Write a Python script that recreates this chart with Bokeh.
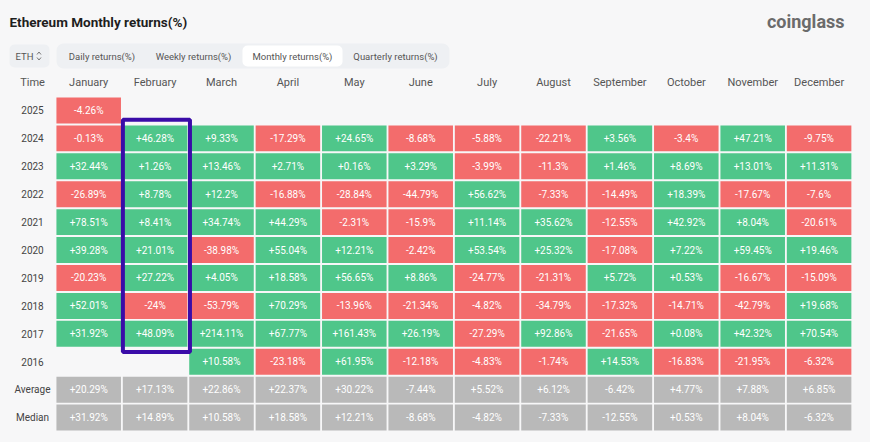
from bokeh.plotting import figure
from bokeh.models import Range1d, ColumnDataSource
from bokeh.core.properties import value
from bokeh.embed import file_html
from bokeh.resources import INLINE

# ---------------- data ----------------
months = ["January", "February", "March", "April", "May", "June", "July",
          "August", "September", "October", "November", "December"]
row_labels = ["2025", "2024", "2023", "2022", "2021", "2020", "2019", "2018",
              "2017", "2016", "Average", "Median"]
r2025 = [-4.26, None, None, None, None, None, None, None, None, None, None, None]
r2024 = [-0.13, 46.28, 9.33, -17.29, 24.65, -8.68, -5.88, -22.21, 3.56, -3.4, 47.21, -9.75]
r2023 = [32.44, 1.26, 13.46, 2.71, 0.16, 3.29, -3.99, -11.3, 1.46, 8.69, 13.01, 11.31]
r2022 = [-26.89, 8.78, 12.2, -16.88, -28.84, -44.79, 56.62, -7.33, -14.49, 18.39, -17.67, -7.6]
r2021 = [78.51, 8.41, 34.74, 44.29, -2.31, -15.9, 11.14, 35.62, -12.55, 42.92, 8.04, -20.61]
r2020 = [39.28, 21.01, -38.98, 55.04, 12.21, -2.42, 53.54, 25.32, -17.08, 7.22, 59.45, 19.46]
r2019 = [-20.23, 27.22, 4.05, 18.58, 56.65, 8.86, -24.77, -21.31, 5.72, 0.53, -16.67, -15.09]
r2018 = [52.01, -24, -53.79, 70.29, -13.96, -21.34, -4.82, -34.79, -17.32, -14.71, -42.79, 19.68]
r2017 = [31.92, 48.09, 214.11, 67.77, 161.43, 26.19, -27.29, 92.86, -21.65, 0.08, 42.32, 70.54]
r2016 = [None, None, 10.58, -23.18, 61.95, -12.18, -4.83, -1.74, 14.53, -16.83, -21.95, -6.32]
average = [20.29, 17.13, 22.86, 22.37, 30.22, -7.44, 5.52, 6.12, -6.42, 4.77, 7.88, 6.85]
median = [31.92, 14.89, 10.58, 18.58, 12.21, -8.68, -4.82, -7.33, -12.55, 0.53, 8.04, -6.32]
highlight_month = "February"
highlight_years = ["2024", "2017"]  # first and last row of the highlighted block

rows = [r2025, r2024, r2023, r2022, r2021, r2020, r2019, r2018, r2017, r2016, average, median]
summary_rows = {"Average", "Median"}

# ---------------- styling ----------------
W, H = 870, 442
COL_PX = 66.4
ROW_PX = 27.92
X0 = -55 / COL_PX
Y_TOP = -96 / ROW_PX
BG = "#f7f7f8"
GREEN = "#4fc68a"
RED = "#f36c6c"
GRAY = "#b9b9b9"
FONT = "Roboto"


def sx(px):
    """screen x -> data x (decorations only)"""
    return X0 + px / COL_PX


def sy(py):
    return Y_TOP + py / ROW_PX


p = figure(width=W, height=H, output_backend="svg", toolbar_location=None,
           x_range=Range1d(X0, X0 + W / COL_PX),
           y_range=Range1d(Y_TOP + H / ROW_PX, Y_TOP),
           min_border=0)
p.axis.visible = False
p.grid.visible = False
p.outline_line_color = None
p.background_fill_color = BG
p.border_fill_color = BG

# ---------------- cells ----------------
xs, ys, cols, texts = [], [], [], []
for i, (lab, vals) in enumerate(zip(row_labels, rows)):
    for j, v in enumerate(vals):
        if v is None:
            continue
        xs.append(j + 0.5)
        ys.append(i + 0.5)
        if lab in summary_rows:
            cols.append(GRAY)
        else:
            cols.append(GREEN if v >= 0 else RED)
        texts.append(("%+g" % v) + "%")
src = ColumnDataSource(dict(x=xs, y=ys, c=cols, t=texts))
p.rect(x="x", y="y", width=0.972, height=0.93, fill_color="c", line_color=None, source=src)
p.text(x="x", y="y", text="t", text_align="center", text_baseline="middle",
       text_font=value(FONT), text_font_size="10px", text_color="white", source=src)

# header row
p.text(x=[j + 0.5 for j in range(len(months))], y=[-0.5] * len(months), text=months,
       text_align="center", text_baseline="middle", text_font=value(FONT),
       text_font_size="11px", text_color="#555555")
p.text(x=[sx(32)], y=[-0.5], text=["Time"], text_align="center", text_baseline="middle",
       text_font=value(FONT), text_font_size="11px", text_color="#555555")
# row labels
p.text(x=[sx(32)] * len(row_labels), y=[i + 0.5 for i in range(len(row_labels))],
       text=row_labels, text_align="center", text_baseline="middle",
       text_font=value(FONT), text_font_size="10px", text_color="#444444")

# highlight box
hj = months.index(highlight_month)
hi0 = row_labels.index(highlight_years[0])
hi1 = row_labels.index(highlight_years[1])
p.quad(left=[hj + 0.015], right=[hj + 1.025], top=[hi0 - 0.17], bottom=[hi1 + 1 + 0.15],
       fill_color=None, line_color="#3a0ca8", line_width=4)

# ---------------- title / tabs / logo ----------------
p.text(x=[sx(9)], y=[sy(21)], text=["Ethereum Monthly returns(%)"], text_align="left",
       text_baseline="middle", text_font=value(FONT), text_font_style="bold",
       text_font_size="13.5px", text_color="#1e1e1e")
p.text(x=[sx(844)], y=[sy(21)], text=["coinglass"], text_align="right",
       text_baseline="middle", text_font=value(FONT), text_font_style="bold",
       text_font_size="18px", text_color="#6b6b6b")

p.quad(left=[sx(9)], right=[sx(49)], top=[sy(44)], bottom=[sy(67)],
       fill_color="#eef0f3", line_color=None, border_radius=5)
p.text(x=[sx(15)], y=[sy(55.5)], text=["ETH"], text_align="left", text_baseline="middle",
       text_font=value(FONT), text_font_size="9.5px", text_color="#555555")
p.multi_line(xs=[[sx(36.5), sx(38.5), sx(40.5)], [sx(36.5), sx(38.5), sx(40.5)]],
             ys=[[sy(54), sy(51.5), sy(54)], [sy(57), sy(59.5), sy(57)]],
             line_color="#777777", line_width=1)
p.quad(left=[sx(56)], right=[sx(449)], top=[sy(43)], bottom=[sy(68)],
       fill_color="#eef0f3", line_color=None, border_radius=7)
p.quad(left=[sx(242)], right=[sx(342)], top=[sy(45)], bottom=[sy(66)],
       fill_color="white", line_color=None, border_radius=5)
tabs = ["Daily returns(%)", "Weekly returns(%)", "Monthly returns(%)", "Quarterly returns(%)"]
tab_cx = [101.5, 193, 292, 395]
p.text(x=[sx(c) for c in tab_cx], y=[sy(55.5)] * 4, text=tabs, text_align="center",
       text_baseline="middle", text_font=value(FONT), text_font_size="9.5px",
       text_color="#555555")

html = file_html(p, INLINE)
html = html.replace("<head>", "<head><style>body{background:#f7f7f8;}</style>", 1)
open("out.html", "w").write(html)
